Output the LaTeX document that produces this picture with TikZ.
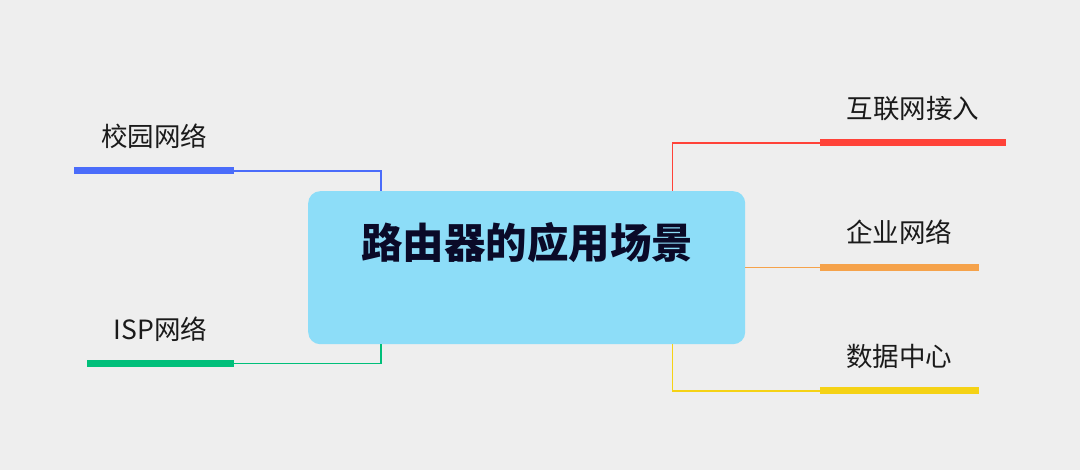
\documentclass[tikz,border=0pt]{standalone}
\usepackage{fontspec}
\setmainfont{Noto Sans CJK SC}
\newfontfamily\cjk{Noto Sans CJK SC}
\definecolor{bg}{HTML}{EEEEEE}
\definecolor{boxc}{HTML}{8DDDF8}
\definecolor{titlec}{HTML}{0A0A28}
\definecolor{labc}{HTML}{1A1A1A}
\definecolor{cblue}{HTML}{4A6CFA}
\definecolor{cgreen}{HTML}{00BF7A}
\definecolor{cred}{HTML}{FF4238}
\definecolor{corange}{HTML}{F5A24A}
\definecolor{cyellow}{HTML}{F5D215}
\tikzset{
  lab/.style={inner sep=0pt, text=labc, font=\cjk\fontsize{26.5}{30}\selectfont},
  under/.style={line width=7pt},
  conn/.style={line width=1.4pt},
}
\begin{document}
\begin{tikzpicture}[x=1pt,y=-1pt]
\path[fill=bg] (0,0) rectangle (1080,470);
\useasboundingbox (0,0) rectangle (1080,470);
% central box
\node[fill=boxc, rounded corners=12pt, minimum width=437pt, minimum height=153pt, inner sep=0pt, anchor=north west] (c) at (308,191) {};
\node[inner sep=0pt, text=titlec, font=\cjk\bfseries\fontsize{41.5}{46}\selectfont] (t) at (527,243) {路由器的应用场景};
% labels
\node[lab] (l1) at (154,136) {校园网络};
\node[lab] (l2) at (160.5,329.5) {ISP网络};
\node[lab] (r1) at (913,109) {互联网接入};
\node[lab] (r2) at (899,232.5) {企业网络};
\node[lab] (r3) at (899,356.5) {数据中心};
% underline coordinates
\coordinate (l1a) at (74,171);   \coordinate (l1b) at (234,171);
\coordinate (l2a) at (87,363.5); \coordinate (l2b) at (234,363.5);
\coordinate (r1a) at (820,143);  \coordinate (r1b) at (1006,143);
\coordinate (r2a) at (820,267.5);\coordinate (r2b) at (979,267.5);
\coordinate (r3a) at (820,391);  \coordinate (r3b) at (979,391);
\coordinate (cl) at (381,0);
\coordinate (cr) at (672.3,0);
% underlines
\draw[under, cblue] (l1a) -- (l1b);
\draw[under, cgreen] (l2a) -- (l2b);
\draw[under, cred] (r1a) -- (r1b);
\draw[under, corange] (r2a) -- (r2b);
\draw[under, cyellow] (r3a) -- (r3b);
% connectors
\draw[conn, cblue] (l1b) -| (cl |- c.north);
\draw[conn, cgreen] (l2b) -| (cl |- c.south);
\draw[conn, cred] (r1a) -| (cr |- c.north);
\draw[conn, corange] (c.east |- r2a) -- (r2a);
\draw[conn, cyellow] (r3a) -| (cr |- c.south);
\end{tikzpicture}
\end{document}
